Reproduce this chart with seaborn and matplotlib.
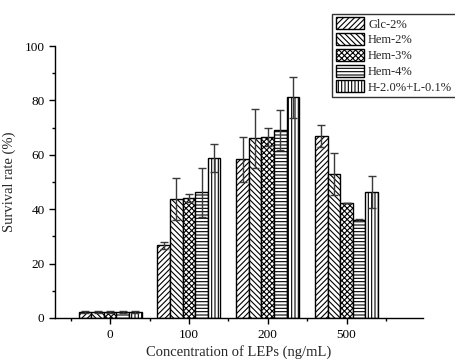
import matplotlib
matplotlib.use('Agg')
import matplotlib.pyplot as plt
import numpy as np
import pandas as pd
import seaborn as sns
from matplotlib.patches import Patch
from matplotlib.ticker import FixedLocator

#%% data
conc = ['0', '100', '200', '500']
groups = ['Glc-2%', 'Hem-2%', 'Hem-3%', 'Hem-4%', 'H-2.0%+L-0.1%']

glc_2 = [2.1, 26.7, 58.3, 67.0]
hem_2 = [2.1, 43.6, 66.1, 52.8]
hem_3 = [2.1, 44.0, 66.4, 42.2]
hem_4 = [2.1, 46.2, 69.1, 36.0]
h_l = [2.1, 58.7, 81.1, 46.4]

glc_2_err = [0.3, 1.4, 8.3, 4.0]
hem_2_err = [0.3, 7.7, 10.9, 7.7]
hem_3_err = [0.3, 1.5, 3.3, 0.0]
hem_4_err = [0.3, 9.1, 7.4, 0.5]
h_l_err = [0.3, 5.2, 7.6, 5.8]

means = [glc_2, hem_2, hem_3, hem_4, h_l]
errs = [glc_2_err, hem_2_err, hem_3_err, hem_4_err, h_l_err]
hatches = ['//////', '\\\\\\\\\\\\', 'xxxxxx', '-----', '|||||']

df = pd.DataFrame({
    'conc': [c for g in groups for c in conc],
    'group': [g for g in groups for c in conc],
    'rate': [v for m in means for v in m],
})

#%% style
sns.set_style('ticks')
plt.rcParams['font.family'] = ['Liberation Serif', 'DejaVu Serif']
plt.rcParams['hatch.linewidth'] = 0.8
plt.rcParams['xtick.direction'] = 'out'
plt.rcParams['ytick.direction'] = 'out'

fig = plt.figure(figsize=(4.56, 3.6), dpi=100)
ax = fig.add_axes([0.1206, 0.1167, 0.807, 0.7555])

sns.barplot(data=df, x='conc', y='rate', hue='group', order=conc,
            hue_order=groups, errorbar=None, width=0.8, ax=ax,
            palette=['white'] * 5, edgecolor='black', linewidth=1.0,
            legend=False)

for cont, h, err in zip(ax.containers, hatches, errs):
    xs, ys = [], []
    for bar in cont:
        bar.set_hatch(h)
        bar.set_facecolor('white')
        bar.set_edgecolor('black')
        xs.append(bar.get_x() + bar.get_width() / 2)
        ys.append(bar.get_height())
    ax.errorbar(xs, ys, yerr=err, fmt='none', ecolor='#3a3a3a',
                elinewidth=1.0, capsize=3, capthick=1.0, zorder=5)

ax.set_xlim(-0.7, 3.97)
ax.set_ylim(0, 100)
ax.set_yticks([0, 20, 40, 60, 80, 100])
ax.yaxis.set_minor_locator(FixedLocator([10, 30, 50, 70, 90]))
ax.xaxis.set_minor_locator(FixedLocator([-0.5, 0.5, 1.5, 2.5, 3.5]))
ax.tick_params(axis='both', which='major', length=4, width=1, labelsize=9.5,
               color='black', labelcolor='black')
ax.tick_params(axis='x', which='major', pad=4)
ax.tick_params(axis='both', which='minor', length=2.5, width=1, color='black')
for s in ['left', 'bottom']:
    ax.spines[s].set_color('black')
    ax.spines[s].set_linewidth(1.0)
ax.spines['top'].set_visible(False)
ax.spines['right'].set_visible(False)

ax.set_xlabel('Concentration of LEPs (ng/mL)', fontsize=10.5, labelpad=3)
ax.set_ylabel('Survival rate (%)', fontsize=10.5, labelpad=6)

#custom legend
handles = [Patch(facecolor='white', edgecolor='black', hatch=h, label=g)
           for h, g in zip(hatches, groups)]
leg = fig.legend(handles=handles, loc='upper right', bbox_to_anchor=(1.0, 0.962),
                 fontsize=9, frameon=True, fancybox=False, handlelength=2.3,
                 handleheight=1.1, labelspacing=0.2, handletextpad=0.3,
                 borderpad=0.3, borderaxespad=0.0)
leg.get_frame().set_edgecolor('black')
leg.get_frame().set_linewidth(1.0)

plt.savefig('out.png', dpi=100)
